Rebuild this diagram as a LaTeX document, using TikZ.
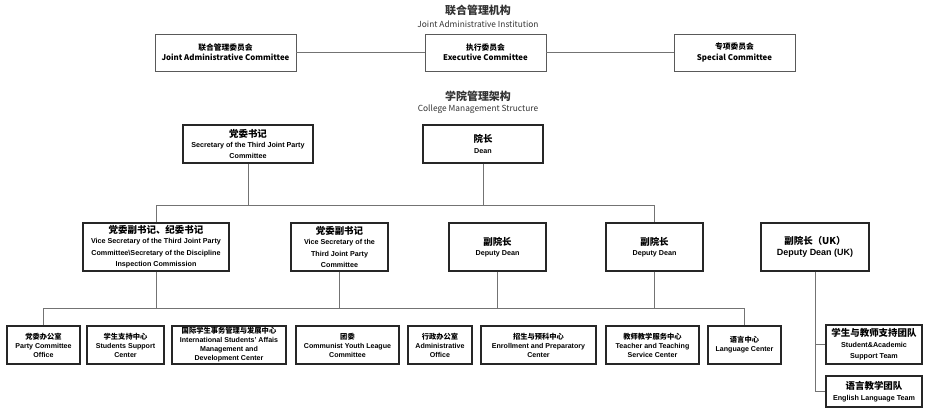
\documentclass[tikz,border=0pt]{standalone}
\usepackage{fontspec}
\setmainfont{Liberation Sans}
\newfontfamily\cjk{Noto Sans CJK SC}
\newcommand{\zhA}[1]{{\fontsize{9.5}{12}\selectfont\cjk\bfseries #1}}
\newcommand{\zhB}[1]{{\fontsize{7.3}{9}\selectfont\cjk\bfseries #1}}
\begin{document}
\begin{tikzpicture}[x=1bp,y=-1bp,
  topbox/.style={draw=black!65, line width=0.9bp, inner sep=0pt, align=center,
    font=\fontsize{7.9}{10.3}\selectfont\cjk\bfseries, minimum height=37bp},
  midbox/.style={draw=black!85, line width=1.1bp, inner sep=0pt, align=center,
    font=\fontsize{7.2}{11.6}\selectfont\bfseries},
  lowbox/.style={draw=black!85, line width=1.1bp, inner sep=0pt, align=center,
    font=\fontsize{7.1}{9}\selectfont\bfseries, minimum height=38bp},
  conn/.style={draw=black!55, line width=0.9bp},
  title/.style={inner sep=0pt, font=\fontsize{11}{13}\selectfont\cjk\bfseries, text=black!80},
  subtitle/.style={inner sep=0pt, font=\fontsize{8.4}{10}\selectfont\cjk, text=black!80}
]
\useasboundingbox (0,0) rectangle (930,410);

% titles
\node[title] (t1) at (478,10) {联合管理机构};
\node[subtitle] (t1e) at (478,24) {Joint Administrative Institution};
\node[title] (t2) at (478,96) {学院管理架构};
\node[subtitle] (t2e) at (478,109) {College Management Structure};

% top row
\node[topbox, minimum width=141bp] (jac) at (225.5,52.5) {{\fontsize{7.8}{10}\selectfont 联合管理委员会}\\Joint Administrative Committee};
\node[topbox, minimum width=121bp] (ec) at (485.5,52.5) {{\fontsize{7.8}{10}\selectfont 执行委员会}\\Executive Committee};
\node[topbox, minimum width=121bp] (sc) at (734.5,52.5) {{\fontsize{7.8}{10}\selectfont 专项委员会}\\Special Committee};
\draw[conn] (jac.east) -- (ec.west);
\draw[conn] (ec.east) -- (sc.west);

% level 1
\node[midbox, minimum width=130bp, minimum height=38bp] (sec) at (248,144)
  {\zhA{党委书记}\\[-1.5bp]Secretary of the Third Joint Party\\Committee};
\node[midbox, minimum width=120bp, minimum height=38bp] (dean) at (483,144)
  {\zhA{院长}\\[-1bp]Dean};

% level 2
\node[midbox, minimum width=146bp, minimum height=48bp] (vs1) at (156,247)
  {\zhA{党委副书记、纪委书记}\\[-1.5bp]Vice Secretary of the Third Joint Party\\Committee\textbackslash Secretary of the Discipline\\Inspection Commission};
\node[midbox, minimum width=97bp, minimum height=48bp] (vs2) at (339.5,247)
  {\zhA{党委副书记}\\[-1.5bp]Vice Secretary of the\\Third Joint Party\\Committee};
\node[midbox, minimum width=97bp, minimum height=48bp] (dd1) at (497.5,247)
  {\zhA{副院长}\\[-1bp]Deputy Dean};
\node[midbox, minimum width=97bp, minimum height=48bp] (dd2) at (654.5,247)
  {\zhA{副院长}\\[-1bp]Deputy Dean};
\node[midbox, minimum width=108bp, minimum height=48bp] (dduk) at (815,247)
  {\zhA{副院长（UK）}\\[-1bp]{\fontsize{9}{11}\selectfont Deputy Dean (UK)}};

\coordinate (b1) at (156,205);
\coordinate (b2) at (654.5,205);
\draw[conn] (vs1.north) -- (b1) -- (b2) -- (dd2.north);
\draw[conn] (sec.south) -- (sec.south |- b1);
\draw[conn] (dean.south) -- (dean.south |- b1);

% level 3
\node[lowbox, minimum width=73bp] (pco) at (43.5,345)
  {\zhB{党委办公室}\\Party Committee\\Office};
\node[lowbox, minimum width=77bp] (ssc) at (125.5,345)
  {\zhB{学生支持中心}\\Students Support\\Center};
\node[lowbox, minimum width=114bp] (isa) at (229,345)
  {\zhB{国际学生事务管理与发展中心}\\International Students' Affais\\Management and\\Development Center};
\node[lowbox, minimum width=103bp] (cyl) at (347.5,345)
  {\zhB{团委}\\Communist Youth League\\Committee};
\node[lowbox, minimum width=64bp] (ao) at (440,345)
  {\zhB{行政办公室}\\Administrative\\Office};
\node[lowbox, minimum width=115bp] (epc) at (538.5,345)
  {\zhB{招生与预科中心}\\Enrollment and Preparatory\\Center};
\node[lowbox, minimum width=93bp] (tts) at (652.5,345)
  {\zhB{教师教学服务中心}\\Teacher and Teaching\\Service Center};
\node[lowbox, minimum width=73bp] (lc) at (744.5,345)
  {\zhB{语言中心}\\Language Center};

\coordinate (c1) at (43.5,308);
\coordinate (c2) at (744.5,308);
\draw[conn] (pco.north) -- (c1) -- (c2) -- (lc.north);
\draw[conn] (vs1.south) -- (vs1.south |- c1);
\draw[conn] (vs2.south) -- (vs2.south |- c1);
\draw[conn] (dd1.south) -- (dd1.south |- c1);
\draw[conn] (dd2.south) -- (dd2.south |- c1);

% UK teams
\node[midbox, minimum width=96bp, minimum height=39bp] (sat) at (874,344.5)
  {\zhA{学生与教师支持团队}\\[-1bp]Student\&Academic\\Support Team};
\node[midbox, minimum width=96bp, minimum height=31bp] (elt) at (874,391.5)
  {\zhA{语言教学团队}\\[-1bp]English Language Team};
\draw[conn] (dduk.south) |- (elt.west);
\draw[conn] (dduk.south |- sat.west) -- (sat.west);
\end{tikzpicture}
\end{document}
